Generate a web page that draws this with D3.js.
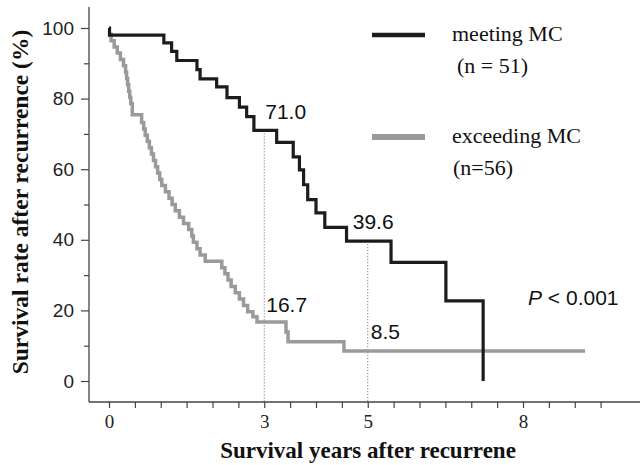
<!DOCTYPE html>
<html>
<head>
<meta charset="utf-8">
<script src="https://cdn.jsdelivr.net/npm/d3@7"></script>
<style>
  body { margin: 0; background: #fff; }
  svg { display: block; }
</style>
</head>
<body>
<div id="chart"></div>
<script>
// [years, survival %], step after each point
var meetingMC = [
  [0, 100], [0.01, 98.0], [1.06, 95.8], [1.21, 93.4], [1.31, 90.8], [1.70, 88.2],
  [1.76, 85.6], [2.08, 83.3], [2.28, 80.3], [2.52, 77.6], [2.66, 74.9], [2.80, 71.0],
  [3.24, 67.6], [3.56, 63.5], [3.68, 59.8], [3.76, 55.6], [3.84, 51.4], [4.00, 47.6],
  [4.17, 43.5], [4.59, 39.6], [5.45, 33.6], [6.51, 22.7], [7.23, 0]
];
var exceedingMC = [
  [0, 98.2], [0.04, 96.4], [0.10, 94.6], [0.16, 92.9], [0.22, 91.1], [0.28, 89.3],
  [0.32, 87.5], [0.34, 85.7], [0.36, 83.9], [0.38, 82.1], [0.40, 80.4], [0.42, 78.6],
  [0.45, 75.4], [0.63, 73.2], [0.67, 71.4], [0.70, 69.6], [0.74, 67.9], [0.78, 66.1],
  [0.82, 64.3], [0.86, 62.5], [0.90, 60.7], [0.94, 58.9], [0.98, 57.1], [1.02, 55.4],
  [1.09, 53.6], [1.16, 51.8], [1.22, 50.0], [1.28, 48.2], [1.36, 46.4], [1.44, 44.6],
  [1.54, 42.9], [1.60, 41.1], [1.63, 39.3], [1.70, 37.5], [1.76, 35.7], [1.86, 33.9],
  [2.18, 32.1], [2.24, 30.4], [2.30, 28.6], [2.36, 26.8], [2.44, 25.0], [2.52, 23.2],
  [2.60, 21.4], [2.68, 19.6], [2.78, 18.2], [2.86, 16.7], [3.42, 13.9], [3.46, 11.1],
  [4.54, 8.5], [9.2, 8.5]
];
// value labels: [years, survival, text] at 3 and 5 years
var marks3y5y = [[3, 71.0, "71.0"], [5, 39.6, "39.6"], [3, 16.7, "16.7"], [5, 8.5, "8.5"]];
var yTicks = [0, 20, 40, 60, 80, 100];
var yMinor = [10, 30, 50, 70, 90];
var xLabels = [0, 3, 5, 8];
var xTicks = d3.range(0, 9.6, 0.5);

var width = 640, height = 465;
var svg = d3.select("#chart").append("svg")
    .attr("width", width).attr("height", height);

var x = d3.scaleLinear().domain([0, 8]).range([109, 523]);
var y = d3.scaleLinear().domain([0, 100]).range([381, 28]);
var x0 = 89, yBase = 402;

// axis frame
svg.append("line").attr("x1", x0).attr("x2", x0).attr("y1", 7).attr("y2", yBase)
    .style("stroke", "#444").style("stroke-width", 1.3);
svg.append("line").attr("x1", x0).attr("x2", width).attr("y1", yBase).attr("y2", yBase)
    .style("stroke", "#444").style("stroke-width", 1.3);

// y axis
var yAxis = svg.append("g").attr("transform", "translate(" + x0 + ",0)")
    .call(d3.axisLeft(y).tickValues(yTicks).tickSize(8).tickPadding(7));
yAxis.select(".domain").remove();
yAxis.selectAll("line").style("stroke", "#444").style("stroke-width", 1.2);
yAxis.selectAll("text").style("font-family", "Liberation Sans, Arial, sans-serif")
    .style("font-size", "19px").style("fill", "#222");
svg.append("g").attr("transform", "translate(" + x0 + ",0)")
    .call(d3.axisLeft(y).tickValues(yMinor).tickSize(5).tickFormat(""))
    .call(g => g.select(".domain").remove())
    .selectAll("line").style("stroke", "#444").style("stroke-width", 1.2);

// x axis
var xAxis = svg.append("g").attr("transform", "translate(0," + yBase + ")")
    .call(d3.axisBottom(x).tickValues(xTicks).tickSize(6).tickFormat(""));
xAxis.select(".domain").remove();
xAxis.selectAll("line").style("stroke", "#444").style("stroke-width", 1.2);
var xLab = svg.append("g").attr("transform", "translate(0," + yBase + ")")
    .call(d3.axisBottom(x).tickValues(xLabels).tickSize(0).tickPadding(13));
xLab.select(".domain").remove();
xLab.selectAll("text").style("font-family", "Liberation Serif, Times New Roman, serif")
    .style("font-size", "19px").style("fill", "#222");

// dotted guide lines at 3 and 5 years
svg.selectAll(".guide").data(marks3y5y.slice(0, 2)).enter().append("line")
    .attr("class", "guide")
    .attr("x1", d => x(d[0])).attr("x2", d => x(d[0]))
    .attr("y1", d => y(d[1])).attr("y2", yBase)
    .style("stroke", "#666").style("stroke-width", 1)
    .style("stroke-dasharray", "1,2");

// survival curves
var line = d3.line().x(d => x(d[0])).y(d => y(d[1])).curve(d3.curveStepAfter);
svg.append("path").datum(exceedingMC).attr("d", line)
    .style("fill", "none").style("stroke", "#9a9a9a").style("stroke-width", 3.5);
svg.append("path").datum(meetingMC).attr("d", line)
    .style("fill", "none").style("stroke", "#1c1c1c").style("stroke-width", 3.2);

// value labels
var labelOffset = [[1, -11], [-15, -12], [2, -10], [3, -12]];
svg.selectAll(".val").data(marks3y5y).enter().append("text")
    .attr("class", "val")
    .attr("x", (d, i) => x(d[0]) + labelOffset[i][0])
    .attr("y", (d, i) => y(d[1]) + labelOffset[i][1])
    .text(d => d[2])
    .style("font-family", "Liberation Sans, Arial, sans-serif")
    .style("font-size", "21px").style("fill", "#111");

// P value
var pt = svg.append("text").attr("x", 528).attr("y", 305)
    .style("font-family", "Liberation Sans, Arial, sans-serif")
    .style("font-size", "21px").style("fill", "#111");
pt.append("tspan").style("font-style", "italic").text("P");
pt.append("tspan").text(" < 0.001");

// legend
var legend = [
  {name: "meeting MC", n: "(n = 51)", color: "#1c1c1c", w: 4.5, y: 35, nx: 457},
  {name: "exceeding MC", n: "(n=56)", color: "#9a9a9a", w: 6, y: 137, nx: 453}
];
var lg = svg.selectAll(".lg").data(legend).enter().append("g").attr("class", "lg");
lg.append("line").attr("x1", 372).attr("x2", 425)
    .attr("y1", d => d.y).attr("y2", d => d.y)
    .style("stroke", d => d.color).style("stroke-width", d => d.w);
lg.append("text").attr("x", 452).attr("y", d => d.y + 6).text(d => d.name)
    .style("font-family", "Liberation Serif, Times New Roman, serif")
    .style("font-size", "22px").style("fill", "#111");
lg.append("text").attr("x", d => d.nx).attr("y", d => d.y + 38).text(d => d.n)
    .style("font-family", "Liberation Serif, Times New Roman, serif")
    .style("font-size", "22px").style("fill", "#111");

// axis titles
svg.append("text").attr("x", 368).attr("y", 458).attr("text-anchor", "middle")
    .text("Survival years after recurrene")
    .style("font-family", "Liberation Serif, Times New Roman, serif")
    .style("font-weight", "bold").style("font-size", "23px").style("fill", "#111");
svg.append("text").attr("transform", "translate(28,202) rotate(-90)")
    .attr("text-anchor", "middle")
    .text("Survival rate after recurrence (%)")
    .style("font-family", "Liberation Serif, Times New Roman, serif")
    .style("font-weight", "bold").style("font-size", "23.5px").style("fill", "#111");
</script>
</body>
</html>
